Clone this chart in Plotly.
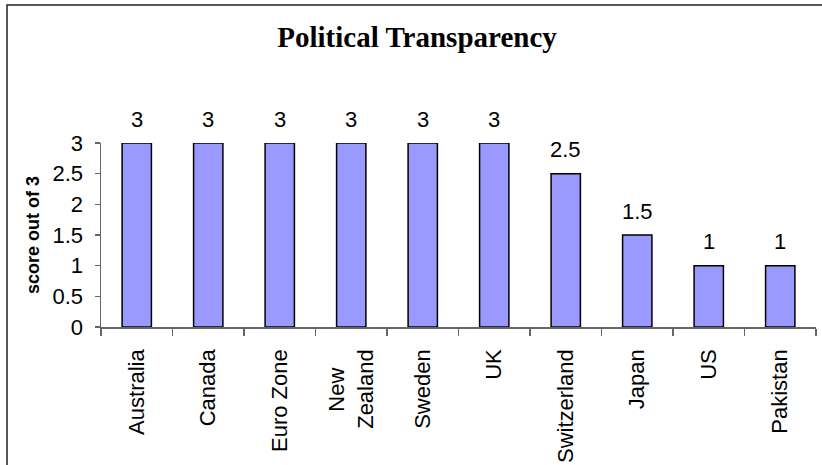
import plotly.graph_objects as go

categories = ["Australia", "Canada", "Euro Zone", "New<br>Zealand", "Sweden", "UK",
              "Switzerland", "Japan", "US", "Pakistan"]
tick_labels = ["Australia", "Canada", "Euro Zone", "New&nbsp;&nbsp;&nbsp;<br>Zealand", "Sweden", "UK",
               "Switzerland", "Japan", "US", "Pakistan"]
scores = [3, 3, 3, 3, 3, 3, 2.5, 1.5, 1, 1]
value_labels = ["3", "3", "3", "3", "3", "3", "2.5", "1.5", "1", "1"]

W, H = 822, 465
L, R, T, B = 101, 6, 143, 138
FS = 22

fig = go.Figure()
fig.add_trace(go.Bar(
    x=categories, y=scores,
    marker=dict(color="#9999FF", line=dict(color="#000000", width=1.5)),
    width=0.41, hoverinfo="skip",
))

for c, v, t in zip(categories, scores, value_labels):
    fig.add_annotation(x=c, y=v, text=t, showarrow=False, yanchor="middle", yshift=24,
                       font=dict(family="Liberation Sans, Arial", size=FS, color="#000"))

fig.update_layout(
    width=W, height=H,
    margin=dict(l=L, r=R, t=T, b=B, pad=0, autoexpand=False),
    paper_bgcolor="white", plot_bgcolor="white",
    showlegend=False,
    bargap=0.59,
    title=dict(text="<b>Political Transparency</b>", x=417 / W, xanchor="center",
               y=1 - 37 / H, yanchor="middle", xref="container", yref="container",
               font=dict(family="Liberation Serif, Times New Roman", size=29, color="#000")),
    font=dict(family="Liberation Sans, Arial", size=FS, color="#000"),
)

fig.update_xaxes(
    type="category", tickmode="array", tickvals=categories, ticktext=tick_labels,
    tickangle=-90, showgrid=False, showline=True, linecolor="#666", linewidth=1.5,
    ticks="outside", ticklen=7, tickcolor="#666", tickwidth=1.5,
    tickson="boundaries", ticklabelstandoff=12, automargin=False,
    tickfont=dict(family="Liberation Sans, Arial", size=FS, color="#000"),
    range=[-0.5, 9.5],
)
fig.update_yaxes(
    range=[0, 3], dtick=0.5, tick0=0, showgrid=False, zeroline=False,
    showline=True, linecolor="#666", linewidth=1.5, automargin=False,
    ticks="outside", ticklen=5, tickcolor="#666", tickwidth=1.5,
    ticklabelstandoff=7,
    tickfont=dict(family="Liberation Sans, Arial", size=FS, color="#000"),
    title=dict(text="<b>score out of 3</b>", standoff=8,
               font=dict(family="Liberation Sans, Arial", size=18, color="#000")),
)

# chart border
fig.add_shape(type="rect", xref="paper", yref="paper",
              x0=(7 - L) / (W - L - R), x1=1.05, y0=-1.0, y1=(H - B - 5) / (H - T - B),
              line=dict(color="#222", width=1.5), fillcolor="rgba(0,0,0,0)", layer="above")

fig.write_html("out.html", config={"displayModeBar": False, "staticPlot": True},
               post_script="document.body.style.margin='0';document.body.style.overflow='hidden';")
